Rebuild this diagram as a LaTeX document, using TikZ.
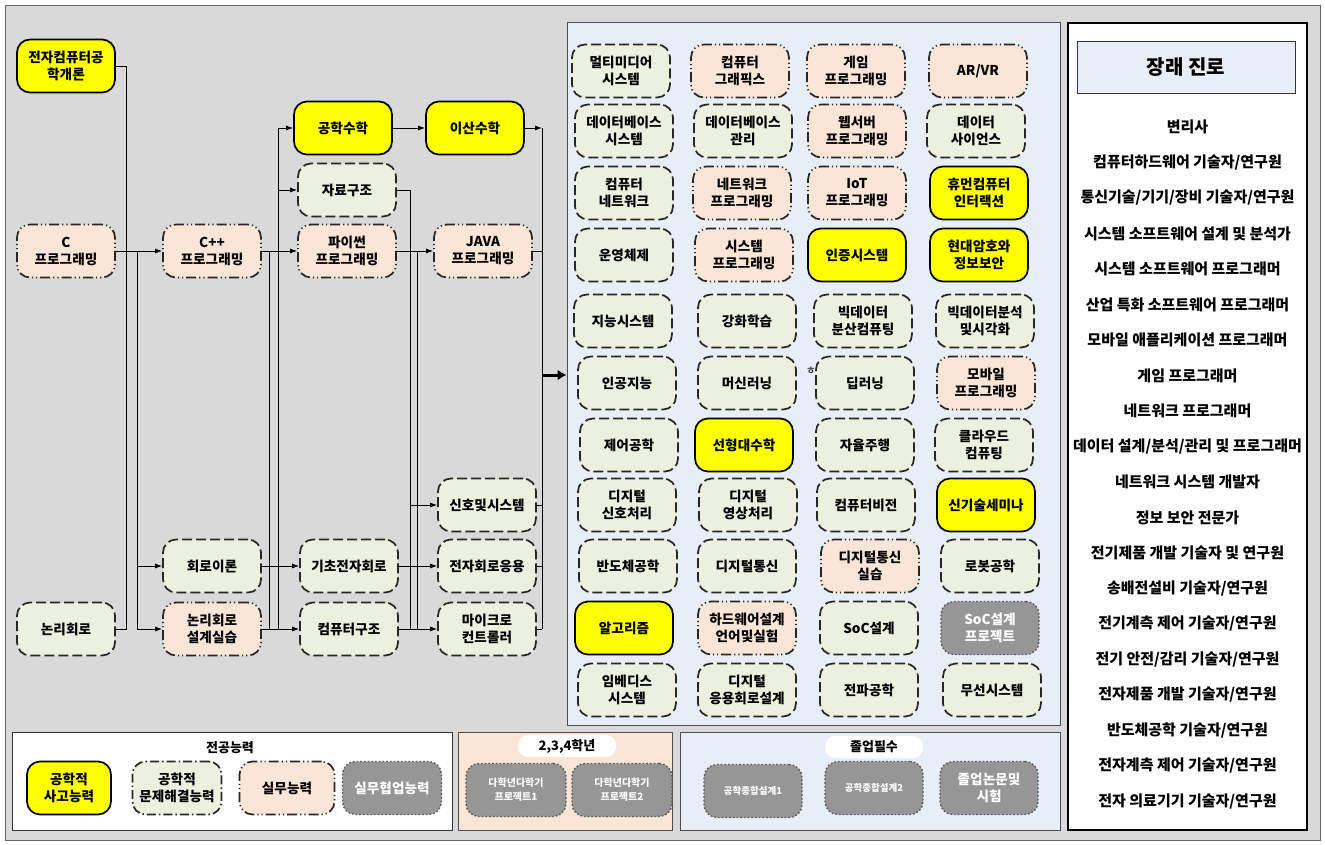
\documentclass[tikz,border=0pt]{standalone}
\usepackage{fontspec}
\setmainfont{Noto Sans CJK KR}
\usetikzlibrary{arrows.meta}
\definecolor{bggray}{RGB}{217,217,217}
\definecolor{panelblue}{RGB}{232,238,248}
\definecolor{cyellow}{RGB}{255,255,0}
\definecolor{cgreen}{RGB}{235,241,222}
\definecolor{cpeach}{RGB}{251,229,214}
\definecolor{cgray}{RGB}{150,150,150}
\begin{document}
\begin{tikzpicture}[x=1pt,y=-1pt,
  cbase/.style={rounded corners=13pt, minimum width=98pt, minimum height=53pt, align=center, inner sep=1pt,
    font=\fontsize{13.6}{17}\selectfont\bfseries, line width=1.7pt},
  ye/.style={cbase, draw=black, fill=cyellow},
  gr/.style={cbase, draw=black!85, fill=cgreen, dash pattern=on 10pt off 4pt},
  pe/.style={cbase, draw=black!85, fill=cpeach, dash pattern=on 10pt off 3pt on 1.2pt off 3pt on 1.2pt off 3pt},
  gy/.style={cbase, draw=black!65, fill=cgray, text=white, dotted, line width=1.4pt},
  wire/.style={draw=black, line width=0.9pt},
  arr/.style={wire, -{Latex[length=7pt,width=5pt]}},
  bigarr/.style={draw=black, line width=3pt, -{Latex[length=9pt,width=11pt]}},
  pill/.style={rounded corners=10pt, fill=white, minimum width=98pt, minimum height=22pt, inner sep=1pt,
    font=\fontsize{13}{15}\selectfont\bfseries},
  ltitle/.style={font=\fontsize{13}{15}\selectfont\bfseries, inner sep=1pt},
  career/.style={font=\fontsize{15}{16}\selectfont\bfseries, inner sep=1pt},
]
\useasboundingbox (0,0) rectangle (1325,844);
\fill[white] (0,0) rectangle (1325,844);
\draw[fill=bggray, draw=black!60, line width=1pt] (5,5) rectangle (1320,840);

% right course panel and career box
\node[draw=black!70, fill=panelblue, line width=1pt, minimum width=493pt, minimum height=703pt, inner sep=0] (panel) at (813.5,373.5) {};
\node[draw=black, fill=white, line width=1.5pt, minimum width=239pt, minimum height=807pt, inner sep=0] (careerbox) at (1187.5,426.5) {};
\node[draw=black!80, fill=panelblue, line width=1pt, minimum width=218pt, minimum height=52pt,
  font=\fontsize{20}{24}\selectfont\bfseries] (ctitle) at (1186,67) {장래 진로};
\foreach \t [count=\i] in {변리사, 컴퓨터하드웨어 기술자/연구원, 통신기술/기기/장비 기술자/연구원,
  시스템 소프트웨어 설계 및 분석가, 시스템 소프트웨어 프로그래머, 산업 특화 소프트웨어 프로그래머,
  모바일 애플리케이션 프로그래머, 게임 프로그래머, 네트워크 프로그래머, 데이터 설계/분석/관리 및 프로그래머,
  네트워크 시스템 개발자, 정보 보안 전문가, 전기제품 개발 기술자 및 연구원, 송배전설비 기술자/연구원,
  전기계측 제어 기술자/연구원, 전기 안전/감리 기술자/연구원, 전자제품 개발 기술자/연구원,
  반도체공학 기술자/연구원, 전자계측 제어 기술자/연구원, 전자 의료기기 기술자/연구원}
  \node[career] (car\i) at (1187.5,{127+35.5*(\i-1)}) {\t};

% left flow
\node[ye] (intro) at (66,66) {전자컴퓨터공\\학개론};
\node[pe] (cprog) at (66,251) {C\\프로그래밍};
\node[gr] (logic) at (66,629) {논리회로};
\node[pe] (cpp) at (212,251) {C++\\프로그래밍};
\node[gr] (circ) at (212,566) {회로이론};
\node[pe] (lcd) at (212,629) {논리회로\\설계실습};
\node[ye] (emath) at (343,128) {공학수학};
\node[gr] (ds) at (347,190) {자료구조};
\node[pe] (py) at (347,251) {파이썬\\프로그래밍};
\node[gr] (bec) at (349,566) {기초전자회로};
\node[gr] (arch) at (349,629) {컴퓨터구조};
\node[ye] (dmath) at (475,128) {이산수학};
\node[pe] (java) at (483,251) {JAVA\\프로그래밍};
\node[gr] (sig) at (487,505) {신호및시스템};
\node[gr] (eca) at (487,566) {전자회로응용};
\node[gr] (mcu) at (487,629) {마이크로\\컨트롤러};

\coordinate (x1) at (126,0);
\coordinate (x2) at (137,0);
\coordinate (x3) at (269,0);
\coordinate (x4) at (278,0);
\coordinate (x5) at (410,0);
\coordinate (x6) at (417,0);
\coordinate (x7) at (542,0);
\coordinate (bigs) at (542,375);

\draw[wire] (intro.east) -- (intro.east -| x1) -- (logic.east -| x1) -- (logic.east);
\draw[arr] (cprog.east) -- (cpp.west);
\draw[wire] (cprog.east -| x2) -- (lcd.west -| x2);
\draw[arr] (circ.west -| x2) -- (circ.west);
\draw[arr] (lcd.west -| x2) -- (lcd.west);
\draw[arr] (cpp.east) -- (py.west);
\draw[arr] (circ.east) -- (bec.west);
\draw[arr] (lcd.east) -- (arch.west);
\draw[wire] (cpp.east -| x3) -- (lcd.east -| x3);
\draw[wire] (emath.west -| x4) -- (arch.west -| x4);
\draw[arr] (emath.west -| x4) -- (emath.west);
\draw[arr] (ds.west -| x4) -- (ds.west);
\draw[arr] (emath.east) -- (dmath.west);
\draw[wire] (ds.east) -- (ds.east -| x5) -- (mcu.west -| x5);
\draw[arr] (py.east) -- (java.west);
\draw[wire] (java.west -| x6) -- (mcu.west -| x6);
\draw[arr] (sig.west -| x5) -- (sig.west);
\draw[arr] (bec.east) -- (eca.west);
\draw[arr] (arch.east) -- (mcu.west);
\draw[arr] (dmath.east) -- (dmath.east -| x7);
\draw[wire] (dmath.east -| x7) -- (mcu.east -| x7);
\draw[wire] (java.east) -- (java.east -| x7);
\draw[wire] (sig.east) -- (sig.east -| x7);
\draw[wire] (eca.east) -- (eca.east -| x7);
\draw[wire] (mcu.east) -- (mcu.east -| x7);
\draw[bigarr] (bigs) -- (bigs -| panel.west);

% course grid
\node[gr] (g11) at (621,71) {멀티미디어\\시스템};
\node[pe] (g12) at (740,71) {컴퓨터\\그래픽스};
\node[pe] (g13) at (856,71) {게임\\프로그래밍};
\node[pe] (g14) at (978,71) {AR/VR};
\node[gr] (g21) at (624,131) {데이터베이스\\시스템};
\node[gr] (g22) at (743,131) {데이터베이스\\관리};
\node[pe] (g23) at (857,131) {웹서버\\프로그래밍};
\node[gr] (g24) at (976,131) {데이터\\사이언스};
\node[gr] (g31) at (624,193) {컴퓨터\\네트워크};
\node[pe] (g32) at (742,193) {네트워크\\프로그래밍};
\node[pe] (g33) at (857,193) {IoT\\프로그래밍};
\node[ye] (g34) at (979,193) {휴먼컴퓨터\\인터랙션};
\node[gr] (g41) at (624,255) {운영체제};
\node[pe] (g42) at (744,255) {시스템\\프로그래밍};
\node[ye] (g43) at (857,255) {인증시스템};
\node[ye] (g44) at (979,255) {현대암호와\\정보보안};
\node[gr] (g51) at (623,321) {지능시스템};
\node[gr] (g52) at (747,321) {강화학습};
\node[gr] (g53) at (863,321) {빅데이터\\분산컴퓨팅};
\node[gr] (g54) at (985,321) {빅데이터분석\\및시각화};
\node[gr] (g61) at (627,383) {인공지능};
\node[gr] (g62) at (747,383) {머신러닝};
\node[gr] (g63) at (865,383) {딥러닝};
\node[pe] (g64) at (986,383) {모바일\\프로그래밍};
\node[gr] (g71) at (629,445) {제어공학};
\node[ye] (g72) at (744,445) {선형대수학};
\node[gr] (g73) at (865,445) {자율주행};
\node[gr] (g74) at (984,445) {클라우드\\컴퓨팅};
\node[gr] (g81) at (627,505) {디지털\\신호처리};
\node[gr] (g82) at (748,505) {디지털\\영상처리};
\node[gr] (g83) at (866,505) {컴퓨터비전};
\node[ye] (g84) at (986,505) {신기술세미나};
\node[gr] (g91) at (628,566) {반도체공학};
\node[gr] (g92) at (747,566) {디지털통신};
\node[pe] (g93) at (870,566) {디지털통신\\실습};
\node[gr] (g94) at (990,566) {로봇공학};
\node[ye] (g101) at (624,628) {알고리즘};
\node[pe] (g102) at (747,628) {하드웨어설계\\언어및실험};
\node[gr] (g103) at (869,628) {SoC설계};
\node[gy] (g104) at (990,628) {SoC설계\\프로젝트};
\node[gr] (g111) at (627,690) {임베디스\\시스템};
\node[gr] (g112) at (747,690) {디지털\\응용회로설계};
\node[gr] (g113) at (869,690) {전파공학};
\node[gr] (g114) at (992,690) {무선시스템};
\node[font=\fontsize{11}{11}\selectfont, inner sep=0] (stray) at (811,371) {ㅎ};

% legend
\draw[fill=white, draw=black!80, line width=1pt] (12,732) rectangle (452,830);
\node[ltitle] (lg0) at (230,748) {전공능력};
\node[ye, minimum width=84pt] (lg1) at (69,788) {공학적\\사고능력};
\node[gr, dash pattern=on 9pt off 3pt on 1.5pt off 3pt, minimum width=89pt] (lg2) at (177,788) {공학적\\문제해결능력};
\node[pe, minimum width=95pt] (lg3) at (287,788) {실무능력};
\node[gy, minimum width=99pt] (lg4) at (392,788) {실무협업능력};
\draw[fill=cpeach, draw=black!70, line width=1pt] (458,732) rectangle (672,830);
\node[pill] (lg5) at (567,746) {2,3,4학년};
\node[gy, minimum width=100pt, font=\fontsize{10}{14}\selectfont\bfseries] (lg6) at (516,790) {다학년다학기\\프로젝트1};
\node[gy, minimum width=100pt, font=\fontsize{10}{14}\selectfont\bfseries] (lg7) at (622,790) {다학년다학기\\프로젝트2};
\draw[fill=panelblue, draw=black!70, line width=1pt] (680,732) rectangle (1060,830);
\node[pill] (lg8) at (874,747) {졸업필수};
\node[gy, font=\fontsize{9.5}{12}\selectfont\bfseries] (lg9) at (753,791) {공학종합설계1};
\node[gy, font=\fontsize{9.5}{12}\selectfont\bfseries] (lg10) at (874,788) {공학종합설계2};
\node[gy] (lg11) at (989,788) {졸업논문및\\시험};
\end{tikzpicture}
\end{document}
